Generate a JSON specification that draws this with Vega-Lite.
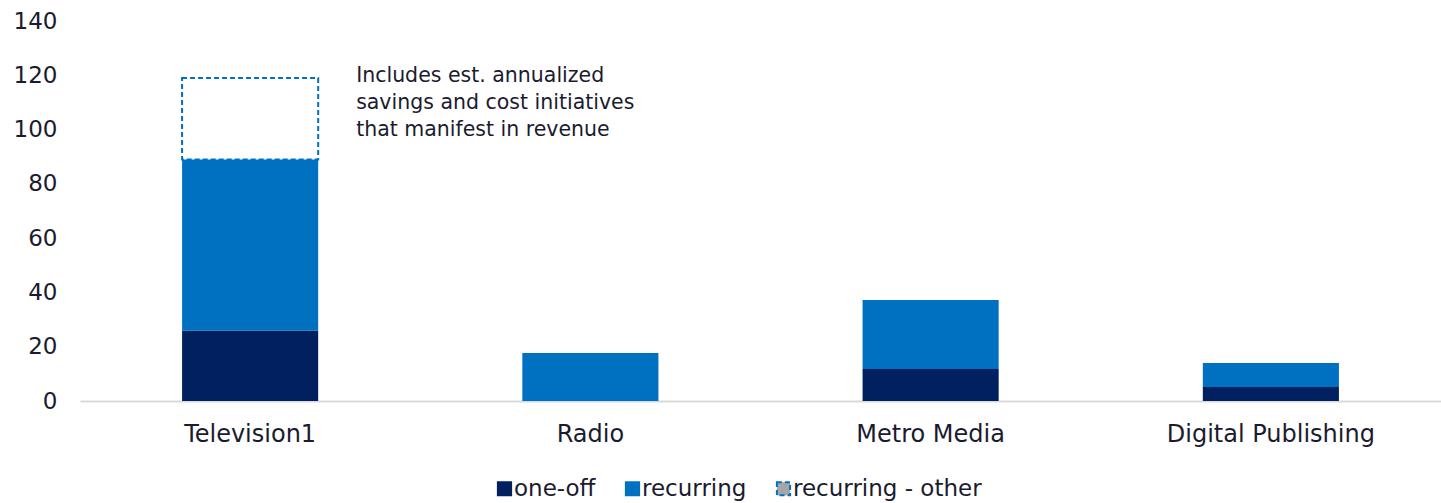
{
  "$schema": "https://vega.github.io/schema/vega-lite/v6.json",
  "width": 1361,
  "height": 380,
  "autosize": {"type": "none"},
  "padding": {"left": 80, "top": 21, "right": 0, "bottom": 102},
  "config": {
    "view": {"stroke": null},
    "font": "DejaVu Sans",
    "text": {"font": "DejaVu Sans"}
  },
  "datasets": {
    "bars": [
      {"segment": "Television1", "series": "one-off", "value": 26, "ord": 1},
      {"segment": "Television1", "series": "recurring", "value": 63, "ord": 2},
      {"segment": "Television1", "series": "recurring - other", "value": 30, "ord": 3},
      {"segment": "Radio", "series": "one-off", "value": 0, "ord": 1},
      {"segment": "Radio", "series": "recurring", "value": 17.7, "ord": 2},
      {"segment": "Metro Media", "series": "one-off", "value": 11.8, "ord": 1},
      {"segment": "Metro Media", "series": "recurring", "value": 25.4, "ord": 2},
      {"segment": "Digital Publishing", "series": "one-off", "value": 5.2, "ord": 1},
      {"segment": "Digital Publishing", "series": "recurring", "value": 8.8, "ord": 2}
    ],
    "note": [
      {"segment": "Television1", "y": 123.5, "label": ["Includes est. annualized", "savings and cost initiatives", "that manifest in revenue"]}
    ]
  },
  "layer": [
    {
      "data": {"name": "bars"},
      "mark": {"type": "bar", "strokeWidth": 2},
      "encoding": {
        "x": {
          "field": "segment", "type": "nominal",
          "sort": ["Television1", "Radio", "Metro Media", "Digital Publishing"],
          "scale": {"paddingInner": 0.6, "paddingOuter": 0.3},
          "axis": {
            "title": null, "labelAngle": 0, "ticks": false, "labelLimit": 0,
            "domainColor": "#d9d9d9", "domainWidth": 2,
            "labelFontSize": 24, "labelColor": "#1b1b2f", "labelPadding": 21
          }
        },
        "y": {
          "field": "value", "type": "quantitative", "stack": "zero",
          "scale": {"domain": [0, 140]},
          "axis": {
            "title": null, "values": [0, 20, 40, 60, 80, 100, 120, 140],
            "grid": false, "domain": false, "ticks": false,
            "labelFontSize": 23, "labelColor": "#1b1b2f", "labelPadding": 23
          }
        },
        "order": {"field": "ord", "type": "quantitative"},
        "fill": {
          "field": "series", "type": "nominal",
          "scale": {"domain": ["one-off", "recurring", "recurring - other"], "range": ["#002060", "#0070C0", "#A6A6A6"]},
          "legend": {
            "title": null, "orient": "none", "legendX": 413, "legendY": 456,
            "direction": "horizontal", "labelFontSize": 23, "labelColor": "#1b1b2f",
            "symbolType": "square", "symbolSize": 175, "symbolStrokeWidth": 2,
            "columnPadding": 25, "labelOffset": -2, "labelLimit": 0
          }
        },
        "stroke": {
          "field": "series", "type": "nominal",
          "scale": {"domain": ["one-off", "recurring", "recurring - other"], "range": ["#002060", "#0070C0", "#0070C0"]}
        },
        "strokeDash": {
          "field": "series", "type": "nominal",
          "scale": {"domain": ["one-off", "recurring", "recurring - other"], "range": [[1, 0], [1, 0], [5, 3]]}
        },
        "strokeWidth": {"condition": {"test": "datum.series === 'recurring - other'", "value": 2}, "value": 0},
        "fillOpacity": {"condition": {"test": "datum.series === 'recurring - other'", "value": 0}, "value": 1}
      }
    },
    {
      "data": {"name": "note"},
      "mark": {"type": "text", "align": "left", "baseline": "top", "dx": 106, "fontSize": 20.5, "lineHeight": 27, "color": "#1b1b2f"},
      "encoding": {
        "x": {"field": "segment", "type": "nominal", "sort": ["Television1", "Radio", "Metro Media", "Digital Publishing"]},
        "y": {"field": "y", "type": "quantitative"},
        "text": {"field": "label"}
      }
    }
  ]
}
